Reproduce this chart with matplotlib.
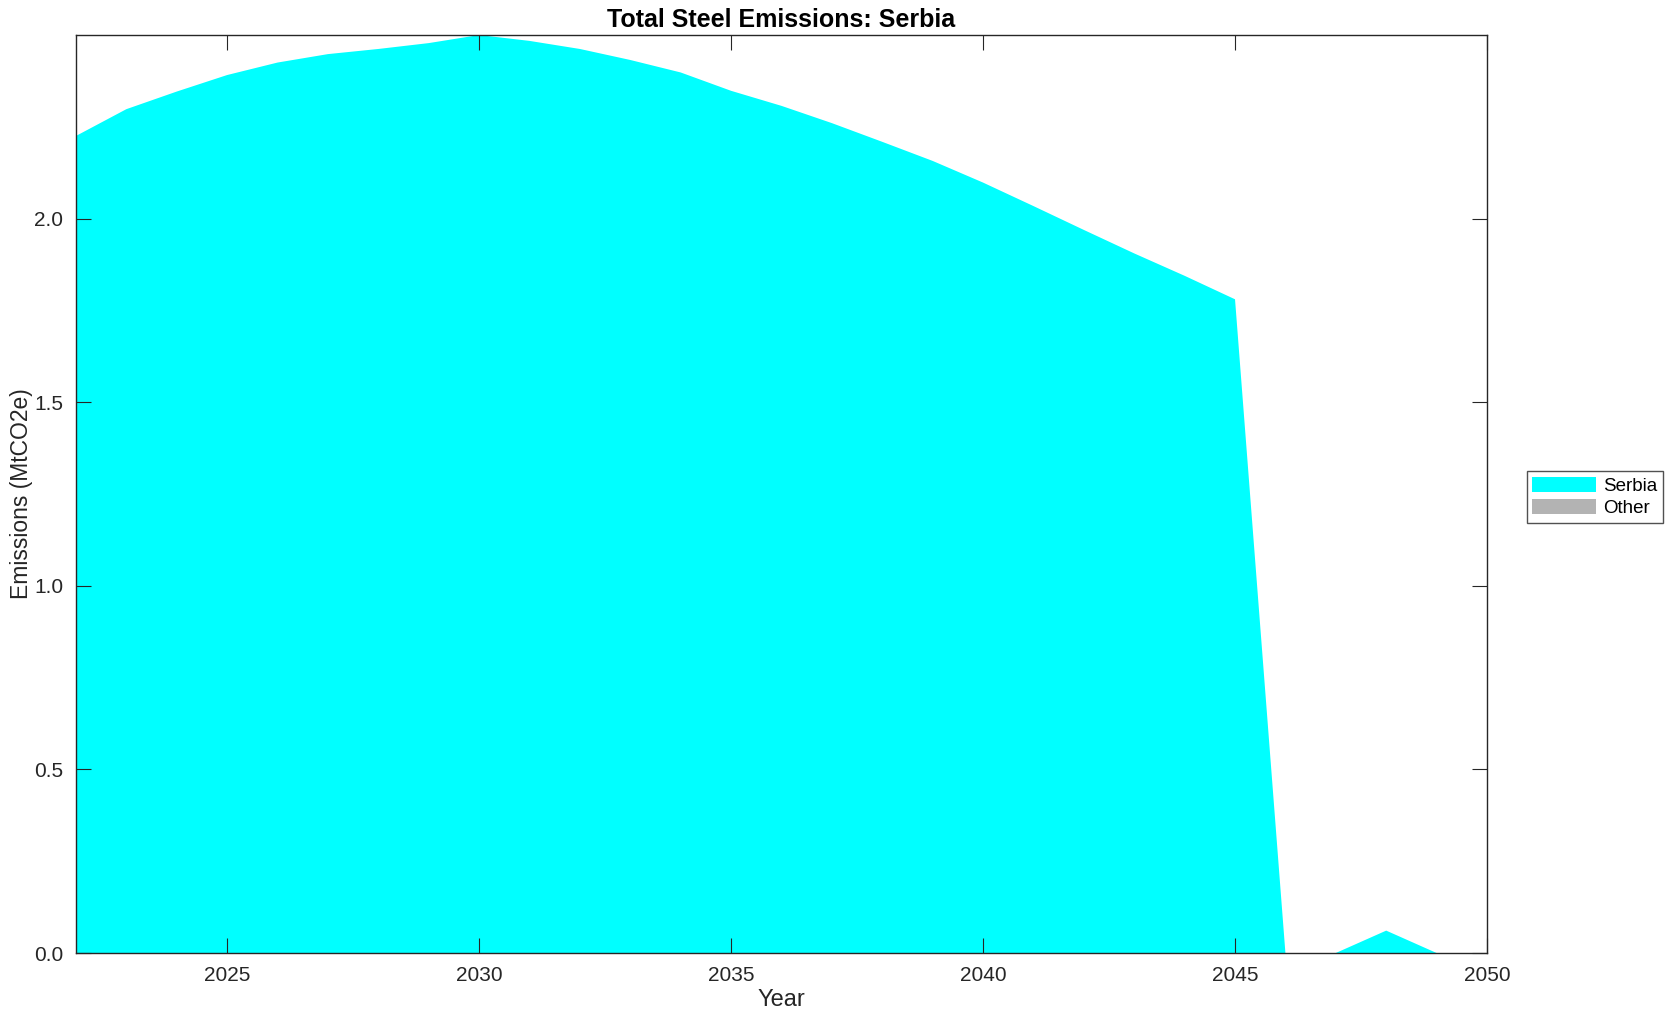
import matplotlib.pyplot as plt
import numpy as np

plt.rcParams['font.family'] = ['Liberation Sans', 'DejaVu Sans']

years = list(range(2022, 2051))
serbia = [2.226, 2.299, 2.347, 2.392, 2.426, 2.449, 2.463, 2.479, 2.501,
          2.485, 2.463, 2.433, 2.399, 2.349, 2.308, 2.261, 2.210, 2.158,
          2.099, 2.035, 1.970, 1.906, 1.845, 1.781, 0.0, 0.0, 0.061, 0.0, 0.0]
other = [0.0] * len(years)

series_names = ['Serbia', 'Other']
series_colors = ['#00ffff', '#b3b3b3']
x_ticks = [2025, 2030, 2035, 2040, 2045, 2050]
y_ticks = [0.0, 0.5, 1.0, 1.5, 2.0]

fig = plt.figure(figsize=(16.77, 10.21), dpi=100)
ax = fig.add_axes([0.0453, 0.0666, 0.8414, 0.8991])

ax.stackplot(years, serbia, other, labels=series_names, colors=series_colors, linewidth=0)

ax.set_xlim(2022, 2050)
ax.set_ylim(0, max(serbia))
ax.set_xticks(x_ticks)
ax.set_yticks(y_ticks)
ax.set_yticklabels(['%.1f' % v for v in y_ticks])

dark = '#262626'
for s in ax.spines.values():
    s.set_color(dark)
    s.set_linewidth(1.0)
ax.tick_params(direction='in', length=11, width=0.8, colors=dark, labelsize=15,
               top=True, right=True, pad=9)
for lbl in ax.get_xticklabels() + ax.get_yticklabels():
    lbl.set_color(dark)

ax.set_title('Total Steel Emissions: Serbia', fontsize=18, fontweight='bold', pad=6)
ax.set_xlabel('Year', fontsize=17, color=dark, labelpad=3)
ax.set_ylabel('Emissions (MtCO2e)', fontsize=16.5, color=dark, labelpad=1)

leg = ax.legend(loc='center left', bbox_to_anchor=(1.028, 0.497), fontsize=13.5,
                frameon=True, fancybox=False, edgecolor=dark, handlelength=3.4,
                handleheight=0.9, labelspacing=0.2, borderpad=0.3, handletextpad=0.4,
                borderaxespad=0)
leg.get_frame().set_linewidth(1.0)

fig.savefig('out.png', dpi=100)
